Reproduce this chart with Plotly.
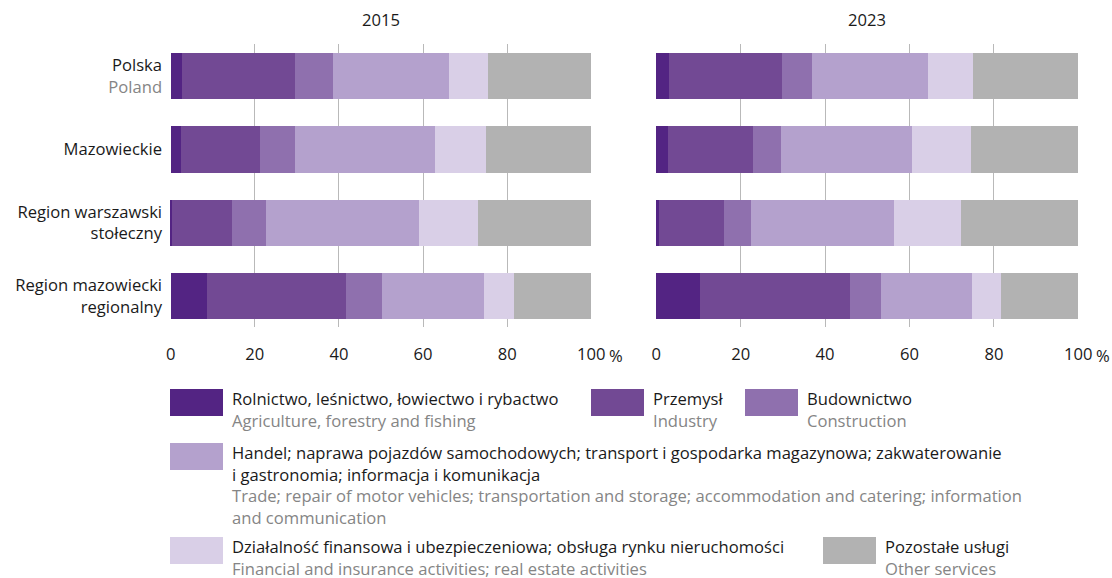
import plotly.graph_objects as go

W, H = 1112, 578
FONT = "Open Sans"
FS = 16.6
BLACK = "#1a1a1a"
GRAY = "#858585"

# Regions (rows, top to bottom) and their axis labels
regions = ["Polska", "Mazowieckie", "Region warszawski stołeczny", "Region mazowiecki regionalny"]
region_labels = [
    "Polska<br><span style='color:#858585'>Poland</span>",
    "Mazowieckie",
    "Region warszawski<br>stołeczny",
    "Region mazowiecki<br>regionalny",
]
years = ["2015", "2023"]

# Gross value added structure by sector, % (rows follow `regions`)
rolnictwo_2015 = [2.7, 2.5, 0.3, 8.6]
przemysl_2015 = [26.9, 18.8, 14.3, 33.1]
budownictwo_2015 = [9.0, 8.3, 8.1, 8.6]
handel_2015 = [27.6, 33.3, 36.4, 24.2]
finanse_2015 = [9.3, 12.1, 14.0, 7.2]
pozostale_2015 = [24.5, 25.0, 26.9, 18.3]

rolnictwo_2023 = [3.0, 2.8, 0.6, 10.3]
przemysl_2023 = [26.8, 20.1, 15.4, 35.6]
budownictwo_2023 = [7.1, 6.6, 6.4, 7.3]
handel_2023 = [27.5, 31.0, 33.9, 21.6]
finanse_2023 = [10.7, 14.0, 15.9, 6.9]
pozostale_2023 = [24.9, 25.5, 27.8, 18.3]

sector_names = [
    "Rolnictwo, leśnictwo, łowiectwo i rybactwo",
    "Przemysł",
    "Budownictwo",
    "Handel; naprawa pojazdów samochodowych; transport i gospodarka magazynowa; zakwaterowanie i gastronomia; informacja i komunikacja",
    "Działalność finansowa i ubezpieczeniowa; obsługa rynku nieruchomości",
    "Pozostałe usługi",
]
sector_colors = ["#532483", "#724994", "#8f70ae", "#b4a1cd", "#d9cfe7", "#b2b2b2"]

x_ticks = [0, 20, 40, 60, 80, 100]
x_ticktext = ["0", "20", "40", "60", "80", "100"]

series = {
    "2015": [rolnictwo_2015, przemysl_2015, budownictwo_2015, handel_2015, finanse_2015, pozostale_2015],
    "2023": [rolnictwo_2023, przemysl_2023, budownictwo_2023, handel_2023, finanse_2023, pozostale_2023],
}


def px_x(p):
    return p / W


def px_y(p):
    return 1 - p / H


fig = go.Figure()
axis_ids = {"2015": ("x", "y"), "2023": ("x2", "y2")}
for yr in years:
    xa, ya = axis_ids[yr]
    for name, color, vals in zip(sector_names, sector_colors, series[yr]):
        fig.add_trace(go.Bar(
            y=regions, x=vals, orientation="h", name=name,
            marker=dict(color=color, line=dict(width=0)),
            xaxis=xa, yaxis=ya, showlegend=False,
            hovertemplate="%{y}: %{x}%<extra>" + yr + "</extra>",
        ))

# Small padding around 0..100 so the edge gridlines are drawn
PAD = 0.15
left_px = (170.7, 591.3)
right_px = (656.3, 1078.3)


def padded_domain(a, b):
    k = (b - a) / 100.0
    return [px_x(a - PAD * k), px_x(b + PAD * k)]


left_dom = padded_domain(*left_px)
right_dom = padded_domain(*right_px)
y_dom = [px_y(327), px_y(44)]

xaxis_common = dict(
    range=[-PAD, 100 + PAD], tickvals=x_ticks, ticktext=x_ticktext,
    showgrid=True, gridcolor="#b9b9b9", gridwidth=1,
    zeroline=False, showline=False, ticks="", automargin=False,
    tickfont=dict(family=FONT, size=FS, color=BLACK),
    ticklabelstandoff=15, fixedrange=True,
)
yaxis_common = dict(
    type="category", categoryorder="array", categoryarray=regions,
    range=[3.42, -0.437], showgrid=False, zeroline=False, showline=False, ticks="",
    automargin=False, fixedrange=True,
)

fig.update_layout(
    width=W, height=H,
    margin=dict(l=0, r=0, t=0, b=0),
    paper_bgcolor="white", plot_bgcolor="white",
    barmode="stack", bargap=0.37,
    font=dict(family=FONT, size=FS, color=BLACK),
    xaxis=dict(domain=left_dom, anchor="y", **xaxis_common),
    xaxis2=dict(domain=right_dom, anchor="y2", **xaxis_common),
    yaxis=dict(domain=y_dom, anchor="x", tickvals=regions, ticktext=region_labels,
               tickfont=dict(family=FONT, size=FS, color=BLACK),
               ticklabelstandoff=7, **yaxis_common),
    yaxis2=dict(domain=y_dom, anchor="x2", showticklabels=False, **yaxis_common),
)

annotations = []
# Panel titles
for yr, (a, b) in zip(years, [left_px, right_px]):
    annotations.append(dict(
        text=yr, x=px_x((a + b) / 2), y=px_y(20), xref="paper", yref="paper",
        xanchor="center", yanchor="middle", showarrow=False,
        font=dict(family=FONT, size=FS, color=BLACK),
    ))
# Percent sign after the last tick label on each panel
for xa in ["x", "x2"]:
    annotations.append(dict(
        text="%", x=100, y=px_y(355), xref=xa, yref="paper",
        xanchor="left", yanchor="middle", showarrow=False, xshift=16,
        font=dict(family=FONT, size=FS, color=BLACK),
    ))

# Legend: swatch position (px) and text lines (Polish in black, English in gray)
legend_items = [
    (170, 389, [
        ("Rolnictwo, leśnictwo, łowiectwo i rybactwo", BLACK),
        ("Agriculture, forestry and fishing", GRAY)]),
    (591, 389, [("Przemysł", BLACK), ("Industry", GRAY)]),
    (745, 389, [("Budownictwo", BLACK), ("Construction", GRAY)]),
    (170, 443, [
        ("Handel; naprawa pojazdów samochodowych; transport i gospodarka magazynowa; zakwaterowanie", BLACK),
        ("i gastronomia; informacja i komunikacja", BLACK),
        ("Trade; repair of motor vehicles; transportation and storage; accommodation and catering; information", GRAY),
        ("and communication", GRAY)]),
    (170, 537, [
        ("Działalność finansowa i ubezpieczeniowa; obsługa rynku nieruchomości", BLACK),
        ("Financial and insurance activities; real estate activities", GRAY)]),
    (823, 537, [("Pozostałe usługi", BLACK), ("Other services", GRAY)]),
]
SW_W, SW_H = 53, 27
LINE_H = 1.3 * FS  # line height used by the text renderer for <br>
shapes = []
for (sx, sy, lines), color in zip(legend_items, sector_colors):
    shapes.append(dict(
        type="rect", xref="paper", yref="paper",
        x0=px_x(sx), x1=px_x(sx + SW_W), y0=px_y(sy + SW_H), y1=px_y(sy),
        fillcolor=color, line=dict(width=0),
    ))
    label = "<br>".join(f"<span style='color:{col}'>{txt}</span>" for txt, col in lines)
    center = sy + 10 + (len(lines) - 1) * LINE_H / 2
    annotations.append(dict(
        text=label, x=px_x(sx + SW_W + 8), y=px_y(center),
        xref="paper", yref="paper", xanchor="left", yanchor="middle", align="left",
        showarrow=False, borderpad=0, font=dict(family=FONT, size=FS, color=BLACK),
    ))

fig.update_layout(annotations=annotations, shapes=shapes)
fig.write_html("out.html")
